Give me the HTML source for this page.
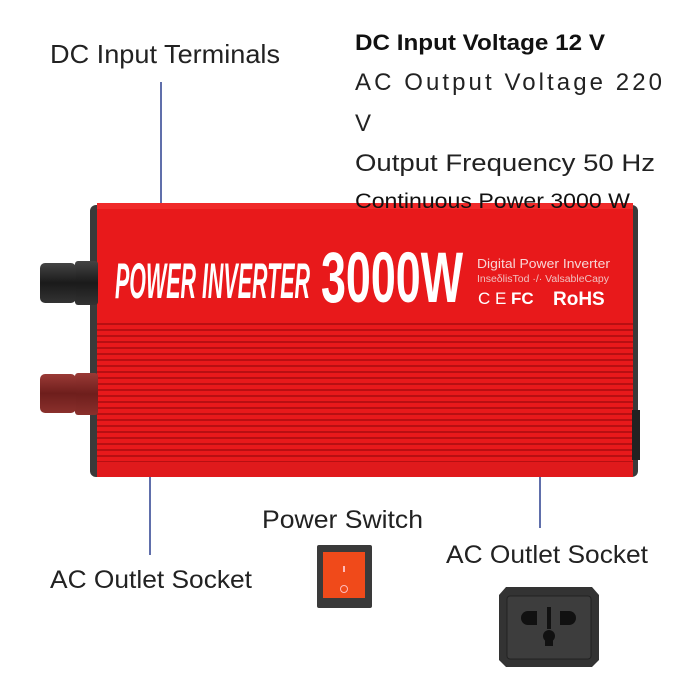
<!DOCTYPE html>
<html><head><meta charset="utf-8"><style>
html,body{margin:0;padding:0;background:#fff;}
svg{display:block}
text{font-family:"Liberation Sans",sans-serif}
</style></head><body>
<svg width="700" height="700" viewBox="0 0 700 700" xmlns="http://www.w3.org/2000/svg">
<defs>
<pattern id="ribs" x="0" y="325" width="10" height="6" patternUnits="userSpaceOnUse">
<rect width="10" height="6" fill="#e8191b"/>
<rect y="4" width="10" height="2" fill="#b80f12"/>
</pattern>
<linearGradient id="bk" x1="0" y1="0" x2="0" y2="1"><stop offset="0" stop-color="#444"/><stop offset="0.5" stop-color="#1a1a1a"/><stop offset="1" stop-color="#333"/></linearGradient>
<linearGradient id="rd" x1="0" y1="0" x2="0" y2="1"><stop offset="0" stop-color="#9a3a36"/><stop offset="0.5" stop-color="#6e1e1c"/><stop offset="1" stop-color="#8a302c"/></linearGradient>
</defs>
<rect width="700" height="700" fill="#fff"/>
<line x1="161" y1="82" x2="161" y2="204" stroke="#2a3f8f" stroke-width="1.5"/>
<line x1="150" y1="477" x2="150" y2="555" stroke="#2a3f8f" stroke-width="1.5"/>
<line x1="540" y1="477" x2="540" y2="528" stroke="#2a3f8f" stroke-width="1.5"/>
<text x="50" y="63" font-size="26" fill="#222" textLength="230" lengthAdjust="spacingAndGlyphs">DC Input Terminals</text>
<text x="355" y="50" font-size="22" fill="#111" font-weight="bold" textLength="250" lengthAdjust="spacingAndGlyphs">DC Input Voltage 12 V</text>
<text x="355" y="90" font-size="24" fill="#222" textLength="307" lengthAdjust="spacing">AC Output Voltage 220</text>
<text x="355" y="131" font-size="24" fill="#222">V</text>
<text x="355" y="171" font-size="24" fill="#222" textLength="300" lengthAdjust="spacingAndGlyphs">Output Frequency 50 Hz</text>
<rect x="90" y="205" width="548" height="272" rx="6" fill="#3a3a3a"/>
<rect x="97" y="203" width="536" height="274" rx="4" fill="#e8191b"/>
<rect x="97" y="322" width="536" height="140" fill="url(#ribs)"/>
<rect x="97" y="203" width="536" height="6" fill="#f02a2a"/>
<rect x="97" y="462" width="536" height="15" fill="#e01a1c"/>
<rect x="632" y="410" width="8" height="50" fill="#222"/>
<text x="355" y="208" font-size="21" fill="#111" textLength="275" lengthAdjust="spacingAndGlyphs">Continuous Power 3000 W</text>
<text x="115" y="298" font-size="50" fill="#fff" font-weight="bold" font-style="italic" textLength="195" lengthAdjust="spacingAndGlyphs">POWER INVERTER</text>
<text x="321" y="302" font-size="71" fill="#fff" font-weight="bold" textLength="142" lengthAdjust="spacingAndGlyphs">3000W</text>
<text x="477" y="268" font-size="13" fill="#f7d6d6" textLength="133" lengthAdjust="spacingAndGlyphs">Digital Power Inverter</text>
<text x="477" y="282" font-size="10" fill="#f0c0c0" textLength="132" lengthAdjust="spacingAndGlyphs">InseδlisTod ·/· ValsableCapy</text>
<text x="478" y="304" font-size="17" fill="#fff">C E</text>
<text x="511" y="304" font-size="17" fill="#fff" font-weight="bold">FC</text>
<text x="553" y="305" font-size="19" fill="#fff" font-weight="bold">RoHS</text>
<rect x="75" y="261" width="23" height="44" rx="3" fill="url(#bk)"/>
<rect x="40" y="263" width="36" height="40" rx="5" fill="url(#bk)"/>
<rect x="75" y="373" width="23" height="42" rx="3" fill="url(#rd)"/>
<rect x="40" y="374" width="36" height="39" rx="5" fill="url(#rd)"/>
<text x="262" y="528" font-size="25" fill="#222" textLength="161" lengthAdjust="spacingAndGlyphs">Power Switch</text>
<text x="50" y="588" font-size="25" fill="#222" textLength="202" lengthAdjust="spacingAndGlyphs">AC Outlet Socket</text>
<text x="446" y="563" font-size="25" fill="#222" textLength="202" lengthAdjust="spacingAndGlyphs">AC Outlet Socket</text>
<rect x="317" y="545" width="55" height="63" rx="2" fill="#3a3a3a"/>
<rect x="323" y="552" width="42" height="46" fill="#f04a1a"/>
<rect x="343" y="566" width="2" height="6" fill="#fbb"/>
<circle cx="344" cy="589" r="3.5" fill="none" stroke="#fbb" stroke-width="1"/>
<path d="M506 587 H592 L599 595 V660 L592 667 H506 L499 660 V595 Z" fill="#333"/>
<rect x="507" y="596" width="84" height="63" rx="3" fill="#3d3d3d" stroke="#222"/>
<path d="M528 611 h9 v14 h-9 a7 7 0 0 1 0 -14z" fill="#111"/>
<path d="M560 611 h9 a7 7 0 0 1 0 14 h-9z" fill="#111"/>
<rect x="547" y="607" width="4" height="22" fill="#111"/>
<circle cx="549" cy="636" r="6" fill="#111"/>
<rect x="545" y="640" width="8" height="6" fill="#111"/>
</svg>
</body></html>
